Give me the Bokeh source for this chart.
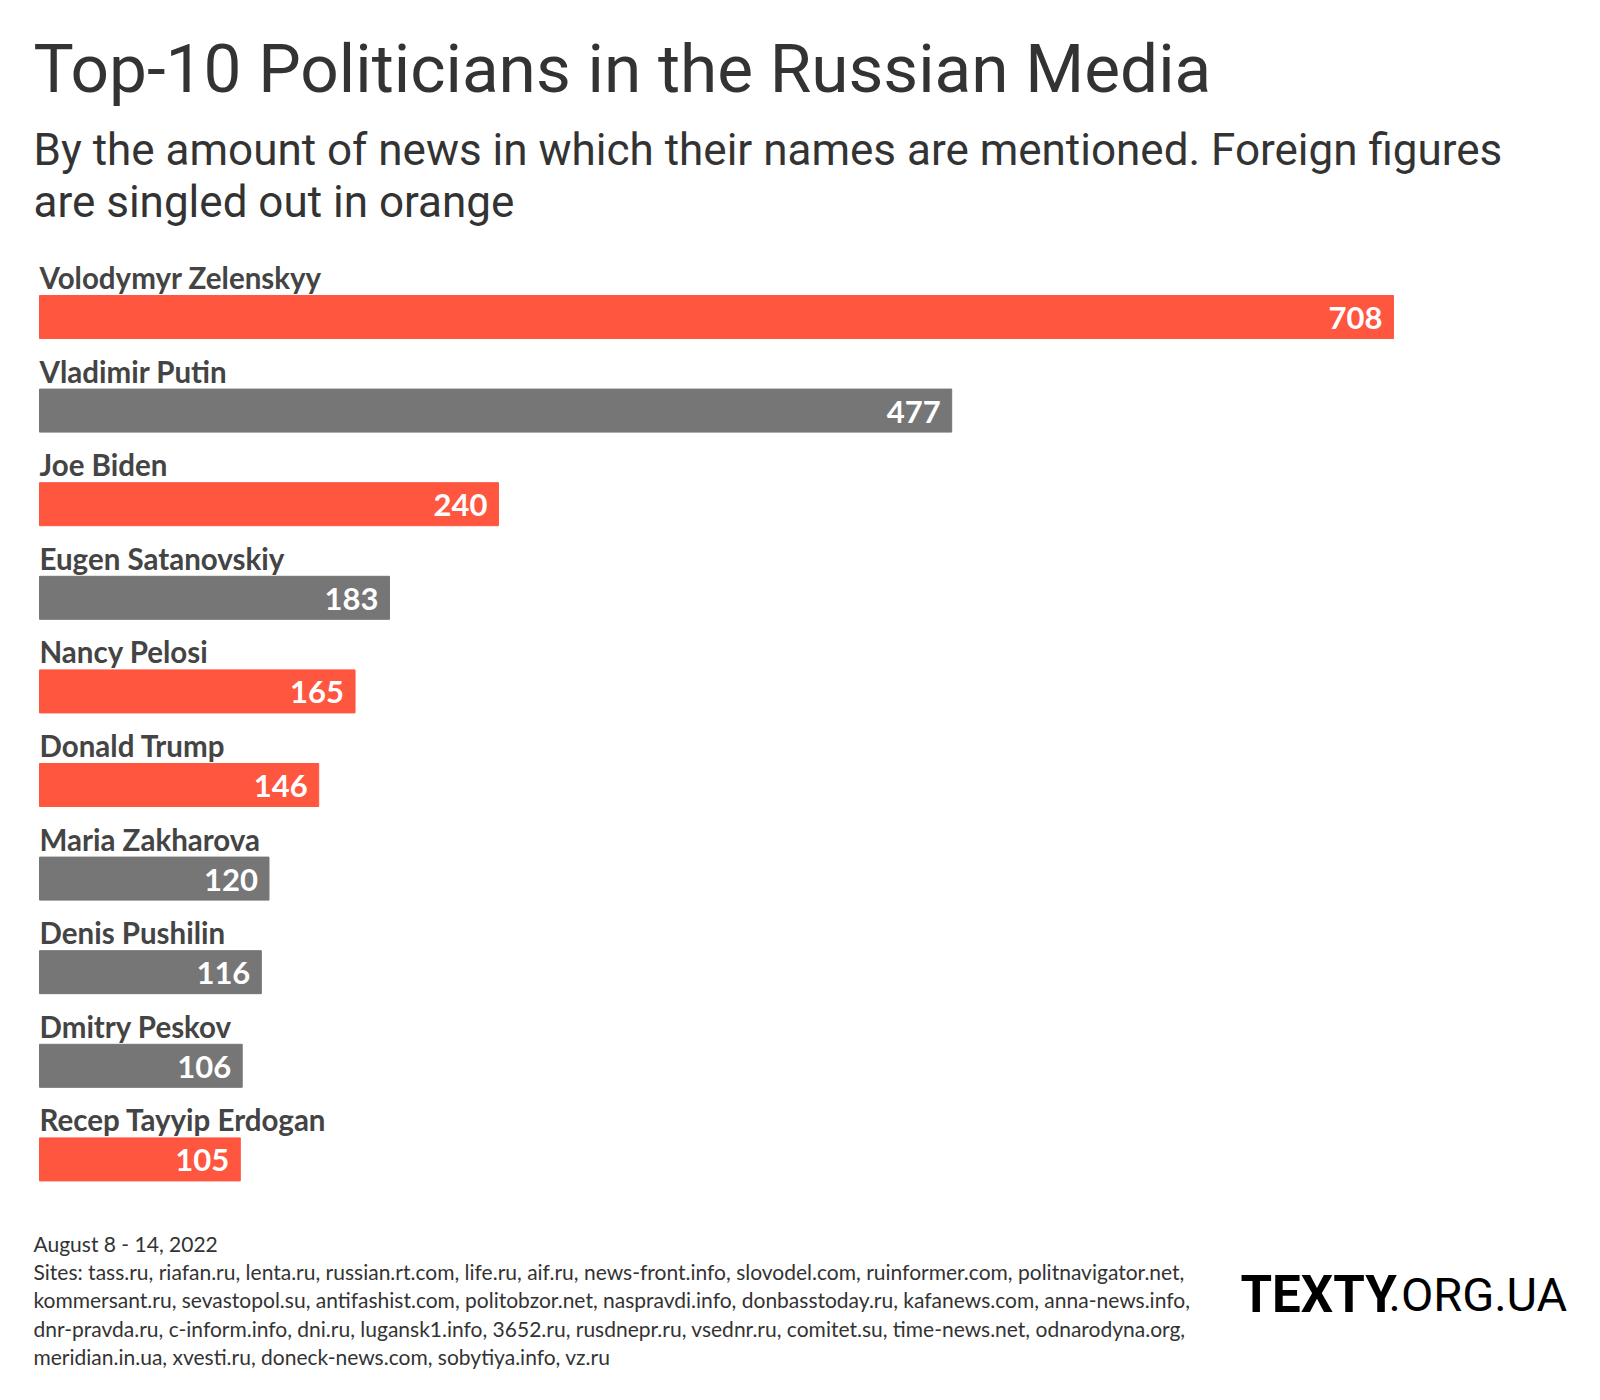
from bokeh.plotting import figure
from bokeh.models import ColumnDataSource, Range1d, Label
from bokeh.core.properties import value
from bokeh.embed import file_html
from bokeh.resources import INLINE

names = ["Volodymyr Zelenskyy", "Vladimir Putin", "Joe Biden", "Eugen Satanovskiy",
         "Nancy Pelosi", "Donald Trump", "Maria Zakharova", "Denis Pushilin",
         "Dmitry Peskov", "Recep Tayyip Erdogan"]
counts = [708, 477, 240, 183, 165, 146, 120, 116, 106, 105]
foreign = [True, False, True, False, True, True, False, False, False, True]

title = "Top-10 Politicians in the Russian Media"
subtitle = ["By the amount of news in which their names are mentioned. Foreign figures",
            "are singled out in orange"]
footer = ["August 8 - 14, 2022",
          "Sites: tass.ru, riafan.ru, lenta.ru, russian.rt.com, life.ru, aif.ru, news-front.info, slovodel.com, ruinformer.com, politnavigator.net,",
          "kommersant.ru, sevastopol.su, antifashist.com, politobzor.net, naspravdi.info, donbasstoday.ru, kafanews.com, anna-news.info,",
          "dnr-pravda.ru, c-inform.info, dni.ru, lugansk1.info, 3652.ru, rusdnepr.ru, vsednr.ru, comitet.su, time-news.net, odnarodyna.org,",
          "meridian.in.ua, xvesti.ru, doneck-news.com, sobytiya.info, vz.ru"]

ORANGE = "#FF5640"
GREY = "#767676"
W, H = 1584, 1384
LEFT = 39          # px of zero
SCALE = 1.9124     # px per unit
PITCH = 93.6
BAR_H = 43
FIRST = 316.5

bar_y = [FIRST + PITCH * i for i in range(len(names))]
src = ColumnDataSource(dict(
    name=names, count=counts, y=bar_y,
    name_y=[y - BAR_H / 2 - 18 for y in bar_y],
    label=[str(c) for c in counts],
    color=[ORANGE if f else GREY for f in foreign],
))

p = figure(width=W, height=H, output_backend="svg", toolbar_location=None,
           x_range=Range1d(-LEFT / SCALE, (W - LEFT) / SCALE),
           y_range=Range1d(H, 0), min_border=0,
           x_axis_location=None, y_axis_location=None, tools="")
p.grid.visible = False
p.outline_line_color = None
p.background_fill_color = "white"
p.border_fill_color = "white"

p.hbar(y="y", left=0, right="count", height=BAR_H, color="color", source=src)
p.text(x=0, y="name_y", text="name", source=src, text_font=value("Lato"),
       text_font_style="bold", text_font_size="29.5px", text_color="#444444",
       text_baseline="middle", text_align="left")
p.text(x="count", y="y", text="label", source=src, text_font=value("Lato"),
       text_font_style="bold", text_font_size="31px", text_color="white",
       text_baseline="middle", text_align="right", x_offset=-11, y_offset=1)

def add_label(txt, px, py, size, font="Roboto", style="normal", color="#333333",
              baseline="middle", align="left"):
    p.add_layout(Label(x=(px - LEFT) / SCALE, y=py, text=txt, text_font=font,
                       text_font_size=size, text_font_style=style, text_color=color,
                       text_baseline=baseline, text_align=align))

add_label(title, 33, 68, "67.5px")
add_label(subtitle[0], 33, 149, "44px")
add_label(subtitle[1], 33, 201, "44px")
for i, line in enumerate(footer):
    add_label(line, 33, 1243 + 28.2 * i, "21px", font="Lato")

add_label("TEXTY", 1240, 1294, "51px", style="bold", color="#000000")
add_label(".ORG.UA", 1388, 1294, "47px", color="#000000")

open("out.html", "w").write(file_html(p, INLINE))
